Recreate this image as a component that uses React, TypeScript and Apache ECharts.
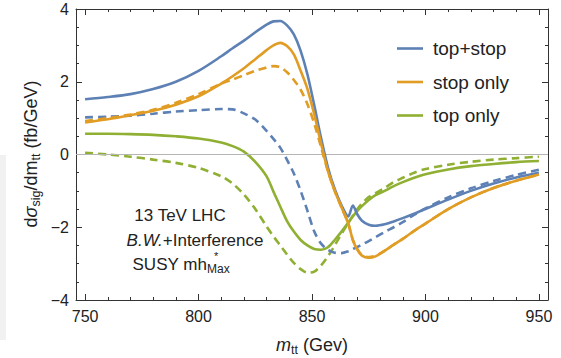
import React, { useEffect, useRef } from "react";
import * as echarts from "echarts";

const mtt = [750, 760, 770, 780, 790, 800, 810, 815, 820, 825, 830, 833, 836, 839, 842, 845, 848, 851, 854, 857, 860, 863, 866, 868, 870, 872, 875, 878, 882, 886, 890, 895, 900, 910, 920, 930, 940, 950];

const topStopSolid = [1.52, 1.58, 1.66, 1.8, 2.0, 2.3, 2.7, 2.92, 3.13, 3.36, 3.57, 3.66, 3.67, 3.55, 3.3, 2.85, 2.2, 1.35, 0.45, -0.35, -0.95, -1.4, -1.7, -1.4, -1.65, -1.82, -1.93, -1.96, -1.92, -1.84, -1.75, -1.63, -1.5, -1.24, -1.0, -0.8, -0.63, -0.5];
const topStopDashed = [1.02, 1.04, 1.07, 1.12, 1.18, 1.22, 1.25, 1.24, 1.13, 0.96, 0.65, 0.43, 0.19, -0.15, -0.52, -1.0, -1.55, -2.12, -2.45, -2.62, -2.7, -2.71, -2.66, -2.6, -2.54, -2.48, -2.38, -2.27, -2.13, -2.0, -1.86, -1.66, -1.48, -1.18, -0.93, -0.73, -0.56, -0.42];
const stopOnlySolid = [0.88, 0.97, 1.08, 1.2, 1.37, 1.6, 1.95, 2.15, 2.37, 2.62, 2.87, 3.0, 3.07, 2.98, 2.75, 2.3, 1.8, 1.1, 0.3, -0.45, -1.0, -1.45, -1.9, -2.35, -2.62, -2.78, -2.84, -2.8, -2.65, -2.48, -2.32, -2.1, -1.9, -1.5, -1.18, -0.92, -0.72, -0.55];
const stopOnlyDashed = [0.92, 1.0, 1.1, 1.23, 1.42, 1.66, 1.95, 2.06, 2.18, 2.3, 2.39, 2.43, 2.4, 2.26, 2.05, 1.78, 1.38, 0.85, 0.2, -0.45, -1.0, -1.45, -1.9, -2.35, -2.6, -2.76, -2.82, -2.78, -2.64, -2.48, -2.32, -2.1, -1.9, -1.5, -1.18, -0.92, -0.72, -0.55];
const topOnlySolid = [0.57, 0.57, 0.56, 0.54, 0.5, 0.44, 0.33, 0.23, 0.08, -0.2, -0.6, -1.02, -1.43, -1.83, -2.12, -2.35, -2.5, -2.6, -2.62, -2.55, -2.35, -2.12, -1.87, -1.7, -1.55, -1.42, -1.25, -1.12, -1.0, -0.87, -0.76, -0.64, -0.54, -0.41, -0.32, -0.26, -0.21, -0.18];
const topOnlyDashed = [0.05, 0.0, -0.06, -0.14, -0.23, -0.37, -0.6, -0.8, -1.1, -1.5, -1.98, -2.25, -2.5, -2.75, -2.98, -3.15, -3.25, -3.22, -3.05, -2.8, -2.5, -2.18, -1.88, -1.68, -1.5, -1.35, -1.17, -1.06, -0.92, -0.76, -0.64, -0.5, -0.4, -0.28, -0.2, -0.14, -0.1, -0.06];

const xMajorTicks = [750, 800, 850, 900, 950];
const xMinorTicks = [760, 770, 780, 790, 810, 820, 830, 840, 860, 870, 880, 890, 910, 920, 930, 940];

const legendNames = ["top+stop", "stop only", "top only"];
const annotationLines = ["13 TeV LHC", "B.W.+Interference", "SUSY mh*Max"];

const BLUE = "#5E81B5";
const ORANGE = "#E19C24";
const GREEN = "#8FB032";
const FONT = "Liberation Sans, Arial, sans-serif";
const TXT = "#222";
const FRAME = "#333";

function pts(arr: number[]) {
  return mtt.map((x, i) => [x, arr[i]]);
}

export default function App() {
  const ref = useRef<HTMLDivElement>(null);
  useEffect(() => {
    if (!ref.current) return;
    const chart = echarts.init(ref.current, undefined, { renderer: "svg" });
    const xBase = {
      type: "value",
      min: 746,
      max: 954,
      gridIndex: 0,
      splitLine: { show: false },
    };
    const mkLine = (name: string, data: number[], color: string, dashed: boolean, z: number) => ({
      name,
      type: "line",
      data: pts(data),
      xAxisIndex: 0,
      yAxisIndex: 0,
      symbol: "none",
      smooth: 0.3,
      z,
      lineStyle: { color, width: 2.6, type: dashed ? [8, 5] : "solid" },
      itemStyle: { color },
    });
    const titleRich = {
      n: { fontSize: 18, fontFamily: FONT, fill: TXT, color: TXT, lineHeight: 22, verticalAlign: "middle" },
      it: { fontSize: 18, fontFamily: FONT, fontStyle: "italic", fill: TXT, color: TXT, lineHeight: 22, verticalAlign: "middle" },
      sub: { fontSize: 12.5, fontFamily: FONT, fill: TXT, color: TXT, verticalAlign: "bottom", lineHeight: 13 },
    };
    const option: any = {
      animation: false,
      backgroundColor: "#fff",
      grid: { left: 76, right: 13, top: 9, bottom: 58, containLabel: false },
      xAxis: [
        {
          ...xBase,
          position: "bottom",
          axisLine: { show: true, onZero: false, lineStyle: { color: FRAME, width: 1 } },
          axisTick: { show: true, inside: true, length: 6, customValues: xMajorTicks, lineStyle: { color: FRAME } },
          axisLabel: { show: true, customValues: xMajorTicks, margin: 8, fontSize: 16, fontFamily: FONT, color: TXT },
        },
        {
          ...xBase,
          position: "bottom",
          axisLine: { show: false, onZero: false },
          axisTick: { show: true, inside: true, length: 3, customValues: xMinorTicks, lineStyle: { color: FRAME } },
          axisLabel: { show: false },
        },
        {
          ...xBase,
          position: "top",
          axisLine: { show: true, onZero: false, lineStyle: { color: FRAME, width: 1 } },
          axisTick: { show: true, inside: true, length: 6, customValues: xMajorTicks, lineStyle: { color: FRAME } },
          axisLabel: { show: false },
        },
        {
          ...xBase,
          position: "top",
          axisLine: { show: false, onZero: false },
          axisTick: { show: true, inside: true, length: 3, customValues: xMinorTicks, lineStyle: { color: FRAME } },
          axisLabel: { show: false },
        },
      ],
      yAxis: [
        {
          type: "value",
          min: -4,
          max: 4,
          interval: 2,
          position: "left",
          splitLine: { show: false },
          axisLine: { show: true, onZero: false, lineStyle: { color: FRAME, width: 1 } },
          axisTick: { show: true, inside: true, length: 6, lineStyle: { color: FRAME } },
          minorTick: { show: true, splitNumber: 4, length: 3, lineStyle: { color: FRAME } },
          axisLabel: {
            margin: 7,
            fontSize: 16,
            fontFamily: FONT,
            color: TXT,
            formatter: (v: number) => (v < 0 ? "\u2212" + Math.abs(v) : String(v)),
          },
        },
        {
          type: "value",
          min: -4,
          max: 4,
          interval: 2,
          position: "right",
          splitLine: { show: false },
          axisLine: { show: true, onZero: false, lineStyle: { color: FRAME, width: 1 } },
          axisTick: { show: true, inside: true, length: 6, lineStyle: { color: FRAME } },
          minorTick: { show: true, splitNumber: 4, length: 3, lineStyle: { color: FRAME } },
          axisLabel: { show: false },
        },
      ],
      legend: {
        data: legendNames,
        orient: "vertical",
        left: 392,
        top: 34,
        itemWidth: 26,
        itemHeight: 14,
        itemGap: 14.5,
        icon: "path://M0,6 L26,6 L26,8.6 L0,8.6 Z",
        textStyle: { fontSize: 19, fontFamily: FONT, color: TXT, padding: [0, 0, 0, 5] },
      },
      series: [
        {
          ...mkLine("zero", [], "#aaa", false, 1),
          data: [],
          markLine: {
            silent: true,
            symbol: "none",
            label: { show: false },
            lineStyle: { color: "#b5b5b5", width: 1.2, type: "solid" },
            data: [{ yAxis: 0 }],
          },
        },
        mkLine("top only dashed", topOnlyDashed, GREEN, true, 2),
        mkLine("top only", topOnlySolid, GREEN, false, 3),
        mkLine("top+stop dashed", topStopDashed, BLUE, true, 4),
        mkLine("top+stop", topStopSolid, BLUE, false, 5),
        mkLine("stop only dashed", stopOnlyDashed, ORANGE, true, 6),
        mkLine("stop only", stopOnlySolid, ORANGE, false, 7),
      ],
      graphic: [
        {
          type: "rect",
          z: -10,
          shape: { x: 0, y: 155, width: 6, height: 185 },
          style: { fill: "#f1f1f1" },
          silent: true,
        },
        {
          type: "text",
          x: 31,
          y: 154,
          rotation: Math.PI / 2,
          style: {
            text: "{n|d}{it|σ}{sub|sig}{n|/dm}{sub|tt}{n| (fb/GeV)}",
            rich: titleRich,
            align: "center",
            verticalAlign: "middle",
          },
        },
        {
          type: "text",
          x: 312,
          y: 345,
          style: {
            text: "{it|m}{sub|tt}{n| (Gev)}",
            rich: titleRich,
            align: "center",
            verticalAlign: "middle",
          },
        },
        {
          type: "text",
          x: 180,
          y: 215,
          style: { text: annotationLines[0], fontSize: 17, fontFamily: FONT, fill: TXT, align: "center", verticalAlign: "middle" },
        },
        {
          type: "text",
          x: 195,
          y: 240,
          style: {
            text: "{it|B.W.}{n|+Interference}",
            rich: {
              n: { fontSize: 17, fontFamily: FONT, fill: TXT },
              it: { fontSize: 17, fontFamily: FONT, fontStyle: "italic", fill: TXT },
            },
            align: "center",
            verticalAlign: "middle",
          },
        },
        {
          type: "text",
          x: 181,
          y: 264,
          style: {
            text: "{n|SUSY mh}{sub|Max}",
            rich: {
              n: { fontSize: 17, fontFamily: FONT, fill: TXT, lineHeight: 22, verticalAlign: "middle" },
              sub: { fontSize: 12, fontFamily: FONT, fill: TXT, verticalAlign: "bottom", lineHeight: 13 },
            },
            align: "center",
            verticalAlign: "middle",
          },
        },
        {
          type: "text",
          x: 214,
          y: 256,
          style: { text: "*", fontSize: 11, fontFamily: FONT, fill: TXT, align: "left", verticalAlign: "middle" },
        },
      ],
    };
    chart.setOption(option);
    return () => chart.dispose();
  }, []);
  return (
    <div
      ref={ref}
      style={{ position: "fixed", left: 0, top: 0, width: 561, height: 358, background: "#fff" }}
    />
  );
}
